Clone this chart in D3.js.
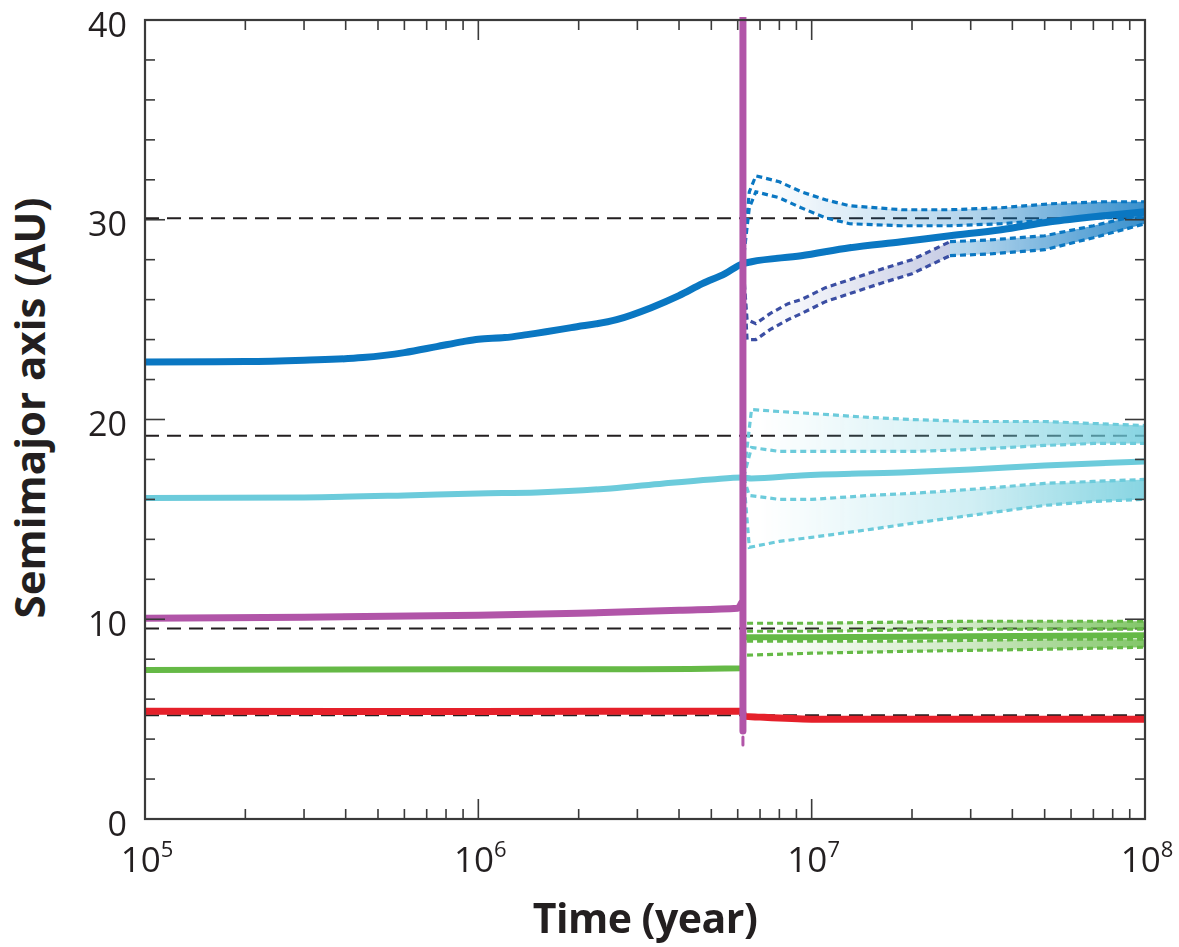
<!DOCTYPE html>
<html>
<head>
<meta charset="utf-8">
<script src="https://cdn.jsdelivr.net/npm/d3@7"></script>
<style>
  html, body { margin: 0; padding: 0; background: #ffffff; }
  svg { display: block; }
</style>
</head>
<body>
<svg id="chart" width="1179" height="947"></svg>
<script>
// ---------------- DATA ----------------
const xMajorTicks = [1e5, 1e6, 1e7, 1e8];
const xTickExponents = ["5", "6", "7", "8"];
const yMajorTicks = [0, 10, 20, 30, 40];
const yMinorTicks = [2, 4, 6, 8, 12, 14, 16, 18, 22, 24, 26, 28, 32, 34, 36, 38];
const presentOrbits = [5.2, 9.54, 19.19, 30.07];   // dashed reference lines

// Neptune (blue) semimajor axis
const neptuneT = [1e5, 2e5, 3e5, 4.5e5, 6e5, 7.5e5, 9e5, 1e6, 1.2e6, 1.4e6, 1.9e6, 2.6e6, 3.3e6, 4e6, 4.7e6, 5.5e6, 6.2e6, 6.6e6, 9.3e6, 1.3e7, 1.86e7, 2.6e7, 3.7e7, 5.2e7, 7.5e7, 1e8];
const neptuneA = [22.88, 22.9, 22.97, 23.1, 23.35, 23.65, 23.9, 24.02, 24.1, 24.25, 24.6, 25.0, 25.6, 26.2, 26.8, 27.3, 27.8, 27.9, 28.2, 28.6, 28.9, 29.2, 29.5, 29.9, 30.2, 30.4];
// Neptune aphelion band (dashed)
const neptuneQT  = [6.22e6, 6.5e6, 6.8e6, 8e6, 9.3e6, 1.1e7, 1.3e7, 1.86e7, 2.6e7, 3.7e7, 5.2e7, 7.5e7, 1e8];
const neptuneQHi = [27.8, 31.4, 32.2, 31.9, 31.4, 31.0, 30.7, 30.5, 30.5, 30.6, 30.8, 30.9, 30.9];
const neptuneQLo = [27.8, 30.6, 31.4, 31.1, 30.6, 30.1, 29.8, 29.7, 29.7, 29.8, 30.0, 30.1, 30.1];
// Neptune perihelion band, early part (dark blue, dashed)
const neptuneqDarkT  = [6.22e6, 6.4e6, 6.8e6, 7.5e6, 8.5e6, 9.3e6, 1.1e7, 1.3e7, 1.6e7, 2e7, 2.6e7];
const neptuneqDarkHi = [27.8, 25.0, 24.8, 25.3, 25.8, 26.0, 26.6, 27.0, 27.5, 28.0, 28.9];
const neptuneqDarkLo = [27.8, 24.0, 24.0, 24.5, 25.0, 25.3, 25.9, 26.3, 26.8, 27.3, 28.2];
// Neptune perihelion band, late part (blue, dashed)
const neptuneqT  = [2.6e7, 3.5e7, 5e7, 7e7, 1e8];
const neptuneqHi = [28.9, 29.0, 29.2, 29.7, 30.3];
const neptuneqLo = [28.2, 28.3, 28.5, 29.1, 29.8];

// Uranus (light cyan)
const uranusT = [1e5, 3e5, 6e5, 1e6, 1.5e6, 2.5e6, 3.6e6, 5e6, 6.2e6, 6.6e6, 9.3e6, 1.86e7, 3e7, 5e7, 1e8];
const uranusA = [16.07, 16.1, 16.2, 16.3, 16.35, 16.55, 16.8, 17.0, 17.1, 17.05, 17.2, 17.35, 17.5, 17.7, 17.9];
const uranusQT  = [6.25e6, 6.6e6, 8e6, 1e7, 1.5e7, 2e7, 3e7, 5e7, 7e7, 1e8];
const uranusQHi = [17.1, 20.5, 20.4, 20.3, 20.1, 20.0, 19.9, 19.9, 19.8, 19.7];
const uranusQLo = [17.1, 18.6, 18.4, 18.4, 18.4, 18.4, 18.5, 18.7, 18.8, 18.8];
const uranusqT  = [6.25e6, 6.5e6, 8e6, 1e7, 1.5e7, 2e7, 3e7, 5e7, 7e7, 1e8];
const uranusqHi = [17.1, 16.2, 16.0, 16.0, 16.2, 16.3, 16.5, 16.8, 16.9, 17.0];
const uranusqLo = [17.1, 13.6, 13.9, 14.1, 14.5, 14.8, 15.2, 15.7, 15.9, 16.0];

// Saturn (green)
const saturnT = [1e5, 1e6, 3e6, 6.2e6, 6.25e6, 1e7, 3e7, 1e8];
const saturnA = [7.46, 7.5, 7.5, 7.55, 9.1, 9.1, 9.15, 9.2];
const saturnQT  = [6.4e6, 1e7, 3e7, 1e8];
const saturnQHi = [9.8, 9.8, 9.9, 9.9];
const saturnQLo = [9.4, 9.4, 9.5, 9.5];
const saturnqT  = [6.4e6, 1e7, 2e7, 5e7, 1e8];
const saturnqHi = [8.9, 8.9, 8.9, 9.0, 9.0];
const saturnqLo = [8.2, 8.3, 8.4, 8.5, 8.6];

// Jupiter (red)
const jupiterT = [1e5, 1e6, 6.2e6, 6.25e6, 7e6, 1e7, 1e8];
const jupiterA = [5.4, 5.38, 5.4, 5.15, 5.1, 5.0, 5.0];

// Fifth planet (purple), ejected at ~6.2 Myr
const fifthT = [1e5, 3e5, 1e6, 2e6, 4e6, 6e6, 6.15e6];
const fifthA = [10.05, 10.1, 10.2, 10.3, 10.45, 10.55, 10.8];
const ejectT = [6.22e6, 6.22e6];
const ejectA = [4.4, 41];
const ejectTailT = [6.22e6, 6.22e6];
const ejectTailA = [3.7, 4.1];

// ---------------- STYLES ----------------
const C = {
  neptune: "#0a77c2", neptuneDark: "#3b4ea3", uranus: "#6ccbdb",
  saturn: "#65b946", jupiter: "#e5202a", fifth: "#b155a8",
  ink: "#231f20", axis: "#3a3a3a"
};

const L = 145, R = 1145, T = 20, B = 819;

const svg = d3.select("#chart");
const x = d3.scaleLog().domain([1e5, 1e8]).range([L, R]);
const y = d3.scaleLinear().domain([0, 40]).range([B, T]);

const defs = svg.append("defs");
defs.append("clipPath").attr("id", "clip")
  .append("rect").attr("x", L).attr("y", T - 3).attr("width", R - L).attr("height", B - T + 3);
const grad = defs.append("linearGradient").attr("id", "fade")
  .attr("gradientUnits", "userSpaceOnUse")
  .attr("x1", x(7e6)).attr("x2", R).attr("y1", 0).attr("y2", 0);
grad.append("stop").attr("offset", 0).attr("stop-color", "#fff").attr("stop-opacity", 0);
grad.append("stop").attr("offset", 0.55).attr("stop-color", "#fff").attr("stop-opacity", 0.35);
grad.append("stop").attr("offset", 1).attr("stop-color", "#fff").attr("stop-opacity", 0.9);
defs.append("mask").attr("id", "fadeMask")
  .append("rect").attr("x", L).attr("y", T).attr("width", R - L).attr("height", B - T)
  .attr("fill", "url(#fade)");

const zip = (ts, vs) => ts.map((t, i) => [t, vs[i]]);
const line = d3.line().x(d => x(d[0])).y(d => y(d[1]));
const smooth = d3.line().x(d => x(d[0])).y(d => y(d[1])).curve(d3.curveMonotoneX);
const area = d3.area().x(d => x(d[0])).y0(d => y(d[1])).y1(d => y(d[2]));

const plot = svg.append("g").attr("clip-path", "url(#clip)");

// dashed reference orbits
plot.selectAll("line.ref").data(presentOrbits).join("line")
  .attr("class", "ref")
  .attr("x1", L).attr("x2", R)
  .attr("y1", d => y(d)).attr("y2", d => y(d))
  .attr("stroke", C.ink).attr("stroke-width", 2)
  .attr("stroke-dasharray", "14,8");

const fills = plot.append("g").attr("mask", "url(#fadeMask)");

function band(ts, hi, lo, color) {
  fills.append("path").datum(ts.map((t, i) => [t, lo[i], hi[i]]))
    .attr("d", area).attr("fill", color).attr("opacity", 0.9);
  [hi, lo].forEach(vs => {
    plot.append("path").datum(zip(ts, vs))
      .attr("d", line).attr("fill", "none")
      .attr("stroke", color).attr("stroke-width", 3.2)
      .attr("stroke-dasharray", "6,4");
  });
}
function solid(ts, vs, color, w) {
  plot.append("path").datum(zip(ts, vs))
    .attr("d", smooth).attr("fill", "none")
    .attr("stroke", color).attr("stroke-width", w)
    .attr("stroke-linejoin", "round").attr("stroke-linecap", "round");
}

// envelopes (dashed)
band(neptuneQT, neptuneQHi, neptuneQLo, C.neptune);
band(neptuneqDarkT, neptuneqDarkHi, neptuneqDarkLo, C.neptuneDark);
band(neptuneqT, neptuneqHi, neptuneqLo, C.neptune);
band(uranusQT, uranusQHi, uranusQLo, C.uranus);
band(uranusqT, uranusqHi, uranusqLo, C.uranus);
band(saturnQT, saturnQHi, saturnQLo, C.saturn);
band(saturnqT, saturnqHi, saturnqLo, C.saturn);

// semimajor axes (solid)
solid(jupiterT, jupiterA, C.jupiter, 7);
solid(saturnT, saturnA, C.saturn, 6);
solid(uranusT, uranusA, C.uranus, 6);
solid(neptuneT, neptuneA, C.neptune, 7);
solid(fifthT, fifthA, C.fifth, 7);
solid(ejectT, ejectA, C.fifth, 7);
solid(ejectTailT, ejectTailA, C.fifth, 3);

// ---------------- AXES ----------------
const xMinor = [];
xMajorTicks.slice(0, -1).forEach(d => { for (let k = 2; k <= 9; k++) xMinor.push(d * k); });

const axes = svg.append("g").attr("stroke", C.axis).attr("stroke-width", 1.6);
axes.selectAll("line.xb").data(xMajorTicks.concat(xMinor)).join("line")
  .attr("x1", d => x(d)).attr("x2", d => x(d))
  .attr("y1", B).attr("y2", d => B - (xMajorTicks.includes(d) ? 20 : 10));
axes.selectAll("line.xt").data(xMajorTicks.concat(xMinor)).join("line")
  .attr("x1", d => x(d)).attr("x2", d => x(d))
  .attr("y1", T).attr("y2", d => T + (xMajorTicks.includes(d) ? 20 : 10));
const yAll = yMajorTicks.concat(yMinorTicks);
axes.selectAll("line.yl").data(yAll).join("line")
  .attr("y1", d => y(d)).attr("y2", d => y(d))
  .attr("x1", L).attr("x2", d => L + (yMajorTicks.includes(d) ? 20 : 10));
axes.selectAll("line.yr").data(yAll).join("line")
  .attr("y1", d => y(d)).attr("y2", d => y(d))
  .attr("x1", R).attr("x2", d => R - (yMajorTicks.includes(d) ? 20 : 10));

svg.append("rect").attr("x", L).attr("y", T).attr("width", R - L).attr("height", B - T)
  .attr("fill", "none").attr("stroke", C.axis).attr("stroke-width", 2.2);

// tick labels
const font = "'Open Sans', 'Noto Sans', sans-serif";
svg.append("g").selectAll("text").data(yMajorTicks).join("text")
  .attr("x", L - 18).attr("y", d => y(d) + 16.5)
  .attr("text-anchor", "end").attr("font-family", font).attr("font-size", 34)
  .attr("fill", C.ink).text(d => d);

const xl = svg.append("g").selectAll("text").data(xMajorTicks).join("text")
  .attr("x", d => x(d) + 2).attr("y", B + 53)
  .attr("text-anchor", "middle").attr("font-family", font).attr("font-size", 35)
  .attr("fill", C.ink);
xl.append("tspan").text("10");
xl.append("tspan").attr("dy", -15).attr("font-size", 22).text((d, i) => xTickExponents[i]);

// axis titles
svg.append("text").attr("x", (L + R) / 2).attr("y", 933)
  .attr("text-anchor", "middle").attr("font-family", font).attr("font-weight", 700)
  .attr("font-size", 41).attr("fill", C.ink).attr("letter-spacing", -0.5)
  .text("Time (year)");
svg.append("text").attr("transform", "translate(45,408) rotate(-90)")
  .attr("text-anchor", "middle").attr("font-family", font).attr("font-weight", 700)
  .attr("font-size", 42).attr("fill", C.ink).attr("letter-spacing", 0)
  .text("Semimajor axis (AU)");
</script>
</body>
</html>
